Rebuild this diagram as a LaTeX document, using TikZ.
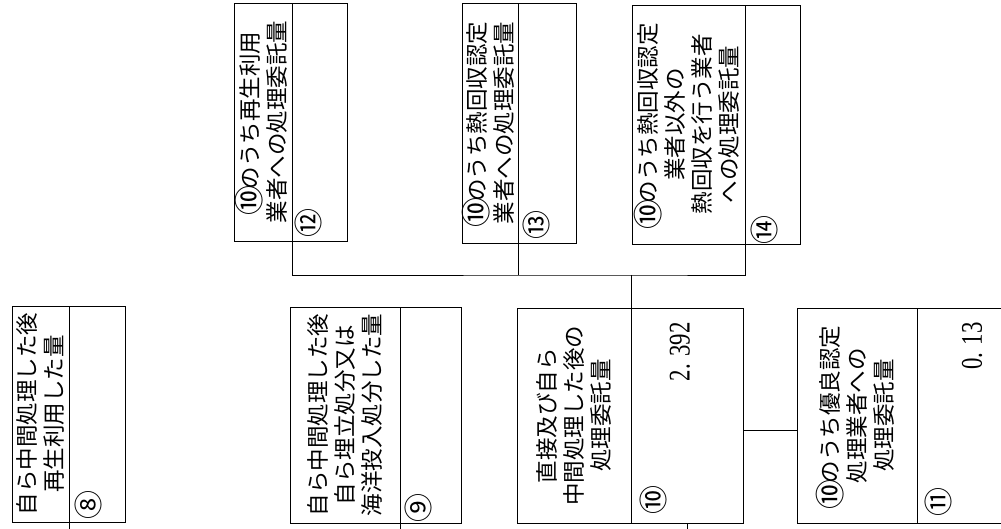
\documentclass[tikz,border=0pt]{standalone}
\usepackage{fontspec}
\newfontfamily\jp{Noto Sans CJK JP}
\newfontfamily\numf[FakeStretch=0.76]{Liberation Serif}
\newcommand\cnum[1]{\makebox[1em]{\raisebox{-0.12em}[0pt][0pt]{\fontsize{30}{30}\selectfont #1}}}
\tikzset{
  part/.style={draw, line width=0.9pt, inner sep=0pt, outer sep=0pt},
  lbltext/.style={rotate=90, align=center, font=\jp\fontsize{22.5}{27}\selectfont, inner sep=0pt},
  numtext/.style={rotate=90, anchor=east, font=\numf\fontsize{30}{30}\selectfont, inner sep=0pt},
  circnum/.style={rotate=90, font=\jp\fontsize{29}{29}\selectfont, inner sep=0pt},
  conn/.style={line width=0.9pt},
}
\begin{document}
\begin{tikzpicture}[x=1pt,y=-1pt]
\useasboundingbox (0,0) rectangle (1001,529);
% box 8
\node[part, minimum width=57pt, minimum height=216pt] (l8) at (40.5,414) {};
\node[part, minimum width=56pt, minimum height=216pt] (v8) at (97,414) {};
% box 9
\node[part, minimum width=110pt, minimum height=216pt] (l9) at (345,415) {};
\node[part, minimum width=61pt, minimum height=216pt] (v9) at (430.5,415) {};
% box 10
\node[part, minimum width=114pt, minimum height=215pt] (l10) at (574,415.5) {};
\node[part, minimum width=112pt, minimum height=215pt] (v10) at (687,415.5) {};
% box 11
\node[part, minimum width=120pt, minimum height=215pt] (l11) at (857,415.5) {};
\node[part, minimum width=98pt, minimum height=215pt] (v11) at (966,415.5) {};
% box 12
\node[part, minimum width=58pt, minimum height=238pt] (l12) at (263,122) {};
\node[part, minimum width=55pt, minimum height=238pt] (v12) at (319.5,122) {};
% box 13
\node[part, minimum width=56pt, minimum height=240pt] (l13) at (490,123) {};
\node[part, minimum width=58pt, minimum height=240pt] (v13) at (547,123) {};
% box 14
\node[part, minimum width=113pt, minimum height=239pt] (l14) at (688.5,124.5) {};
\node[part, minimum width=55pt, minimum height=239pt] (v14) at (772.5,124.5) {};

% labels
\node[lbltext] (t8) at (l8) {自ら中間処理した後\\再生利用した量};
\node[lbltext] (t9) at (l9) {自ら中間処理した後\\自ら埋立処分又は\\海洋投入処分した量};
\node[lbltext] (t10) at (l10) {直接及び自ら\\中間処理した後の\\処理委託量};
\node[lbltext] (t11) at (l11) {\cnum{⑩}のうち優良認定\\処理業者への\\処理委託量};
\node[lbltext] (t12) at (l12) {\cnum{⑩}のうち再生利用\\業者への処理委託量};
\node[lbltext] (t13) at (l13) {\cnum{⑩}のうち熱回収認定\\業者への処理委託量};
\node[lbltext] (t14) at (l14) {\cnum{⑩}のうち熱回収認定\\業者以外の\\熱回収を行う業者\\への処理委託量};

% values
\node[numtext] (n10) at (680,322) {2. 392};
\node[numtext] (n11) at (972,322) {0. 13};

% circled numbers
\node[circnum] (c8) at (88,505) {⑧};
\node[circnum] (c9) at (418,508) {⑨};
\node[circnum] (c10) at (653,500) {⑩};
\node[circnum] (c11) at (938,502) {⑪};
\node[circnum] (c12) at (308,223) {⑫};
\node[circnum] (c13) at (536,225) {⑬};
\node[circnum] (c14) at (764,230) {⑭};

% connectors
\coordinate (bus) at (631,275);
\coordinate (bot) at (0,540);
\coordinate (j) at (770,430);
\draw[conn] (l12.south east) |- (bus) -| (l14.south east);
\draw[conn] (l13.south east) -- (l13.south east |- bus);
\draw[conn] (bus) -- (l10.north east);
\draw[conn] (v10.east |- j) -- (l11.west |- j);
\draw[conn] (l8.south east) -- (l8.south east |- bot);
\draw[conn] (l9.south east) -- (l9.south east |- bot);
\draw[conn] (v10.south) -- (v10.south |- bot);
\end{tikzpicture}
\end{document}
